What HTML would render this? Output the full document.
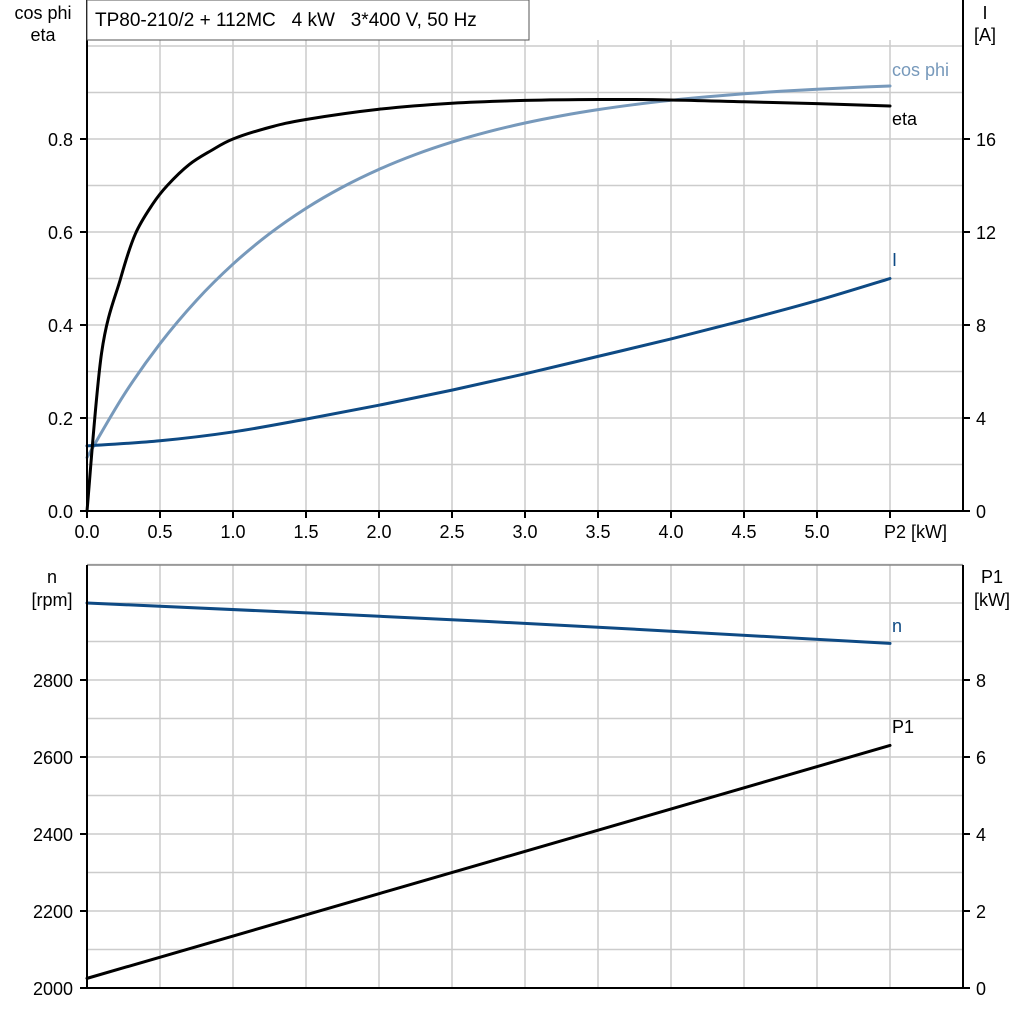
<!DOCTYPE html>
<html><head><meta charset="utf-8"><style>
html,body{margin:0;padding:0;background:#fff}
svg{display:block;font-family:"Liberation Sans",Arial,sans-serif;font-size:18px}
</style></head><body>
<svg id="s" width="1024" height="1024" viewBox="0 0 1024 1024" xmlns="http://www.w3.org/2000/svg">
<g id="grid" stroke="#cccccc" stroke-width="1.5" fill="none"></g>
<g id="curves" fill="none" stroke-width="3" stroke-linejoin="round" stroke-linecap="round"></g>
<g id="axes" stroke="#000" stroke-width="2" fill="none"></g>
<g id="txt" fill="#000" font-size="18"></g>
<rect x="87" y="0" width="442" height="40" fill="#fff" stroke="#555" stroke-width="1"/>
<text x="95" y="26" font-size="19" xml:space="preserve" style="white-space:pre">TP80-210/2 + 112MC   4 kW   3*400 V, 50 Hz</text>
</svg>
<script>
const NS="http://www.w3.org/2000/svg";
function el(p,t,a,txt){const e=document.createElementNS(NS,t);for(const k in a)e.setAttribute(k,a[k]);if(txt!==undefined)e.textContent=txt;document.getElementById(p).appendChild(e);return e;}
const X=v=>87+v*146;
const L=87,R=963;
const YT=v=>511-v*465;
const YN=v=>988-(v-2000)*0.385;
const YP=v=>988-v*38.5;
for(let i=1;i<=11;i++){el('grid','line',{x1:X(i*0.5),x2:X(i*0.5),y1:40,y2:511});el('grid','line',{x1:X(i*0.5),x2:X(i*0.5),y1:565,y2:988});}
for(let i=1;i<=10;i++){el('grid','line',{x1:L,x2:R,y1:YT(i/10),y2:YT(i/10)});}
for(let i=1;i<=11;i++){el('grid','line',{x1:L,x2:R,y1:988-i*38.5,y2:988-i*38.5});}
el('grid','line',{x1:L,x2:R,y1:565,y2:565,stroke:'#888'});
el('axes','line',{x1:L,x2:L,y1:0,y2:511});el('axes','line',{x1:R,x2:R,y1:0,y2:511});el('axes','line',{x1:L,x2:R,y1:511,y2:511});
el('axes','line',{x1:L,x2:L,y1:565,y2:988});el('axes','line',{x1:R,x2:R,y1:565,y2:988});el('axes','line',{x1:L,x2:R,y1:988,y2:988});
for(let i=0;i<=11;i++){el('axes','line',{x1:X(i*0.5),x2:X(i*0.5),y1:511,y2:518});}
for(let i=0;i<=4;i++){const y=YT(i*0.2);el('axes','line',{x1:L-7,x2:L,y1:y,y2:y});el('axes','line',{x1:R,x2:R+7,y1:y,y2:y});
 el('txt','text',{x:73,y:y+7,'text-anchor':'end'},(i*0.2).toFixed(1));el('txt','text',{x:976,y:y+7},String(i*4));}
for(let i=0;i<=4;i++){const y=988-i*77;el('axes','line',{x1:L-7,x2:L,y1:y,y2:y});el('axes','line',{x1:R,x2:R+7,y1:y,y2:y});
 el('txt','text',{x:73,y:y+7,'text-anchor':'end'},String(2000+i*200));el('txt','text',{x:976,y:y+7},String(i*2));}
for(let i=0;i<=10;i++){el('txt','text',{x:X(i*0.5),y:538,'text-anchor':'middle'},(i*0.5).toFixed(1));}
el('txt','text',{x:X(5.5)-6,y:538},'P2 [kW]');
el('txt','text',{x:43,y:19,'text-anchor':'middle'},'cos phi');
el('txt','text',{x:43,y:41,'text-anchor':'middle'},'eta');
el('txt','text',{x:985,y:19,'text-anchor':'middle'},'I');
el('txt','text',{x:985,y:41,'text-anchor':'middle'},'[A]');
el('txt','text',{x:52,y:583,'text-anchor':'middle'},'n');
el('txt','text',{x:52,y:606,'text-anchor':'middle'},'[rpm]');
el('txt','text',{x:992,y:583,'text-anchor':'middle'},'P1');
el('txt','text',{x:992,y:606,'text-anchor':'middle'},'[kW]');
function path(pts,fx,fy){const P=pts.map(p=>[X(p[0]),fy(p[1])]);let d='M'+P[0][0]+','+P[0][1];
 for(let i=0;i<P.length-1;i++){const p0=P[Math.max(0,i-1)],p1=P[i],p2=P[i+1],p3=P[Math.min(P.length-1,i+2)];
 const c1=[p1[0]+(p2[0]-p0[0])/6,p1[1]+(p2[1]-p0[1])/6],c2=[p2[0]-(p3[0]-p1[0])/6,p2[1]-(p3[1]-p1[1])/6];
 d+=' C'+c1+' '+c2+' '+p2;}return d;}
const eta=[[0,0],[0.1,0.34],[0.23,0.5],[0.33,0.595],[0.45,0.66],[0.55,0.7],[0.7,0.745],[0.85,0.775],[1,0.8],[1.25,0.825],[1.5,0.842],[2,0.864],[2.5,0.877],[3,0.883],[3.5,0.885],[4,0.884],[4.5,0.88],[5,0.876],[5.5,0.871]];
const cp=[];for(let x=0;x<=5.5001;x+=0.25){cp.push([x,0.93-0.815*Math.exp(-x/1.4)]);}
const I=[[0,2.8],[0.5,3.02],[1,3.4],[1.5,3.95],[2,4.55],[2.5,5.2],[3,5.9],[3.5,6.65],[4,7.4],[4.5,8.2],[5,9.05],[5.5,10]];
el('curves','path',{d:path(cp,X,YT),stroke:'#7799bb'});
el('curves','path',{d:path(I,X,v=>YT(v/20)),stroke:'#0e4a84'});
el('curves','path',{d:path(eta,X,YT),stroke:'#000'});
el('curves','path',{d:path([[0,3000],[2.75,2952],[5.5,2895]],X,YN),stroke:'#0e4a84'});
el('curves','path',{d:path([[0,0.25],[5.5,6.3]],X,YP),stroke:'#000'});
el('txt','text',{x:892,y:76,fill:'#7799bb'},'cos phi');
el('txt','text',{x:892,y:125},'eta');
el('txt','text',{x:892,y:266,fill:'#0e4a84'},'I');
el('txt','text',{x:892,y:632,fill:'#0e4a84'},'n');
el('txt','text',{x:892,y:733},'P1');
</script>
</body></html>
